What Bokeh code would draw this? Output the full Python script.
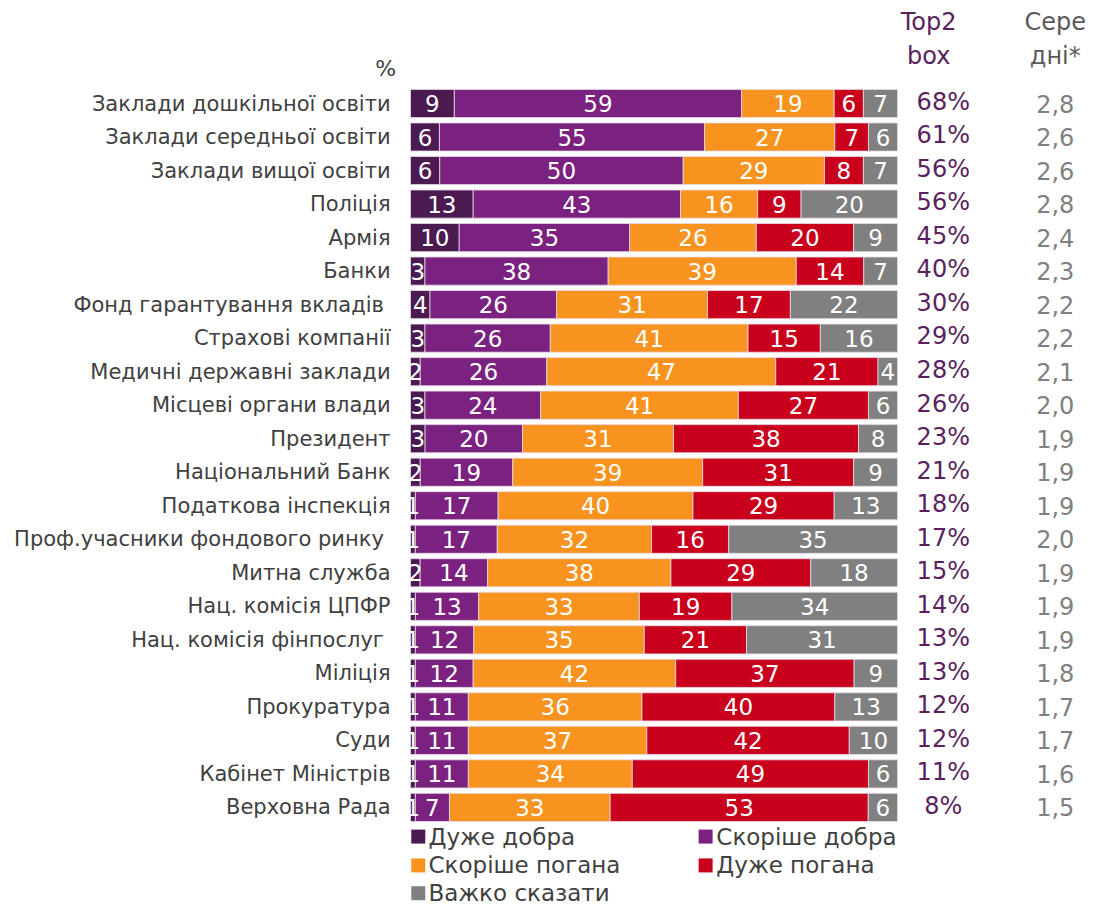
from bokeh.plotting import figure
from bokeh.models import Range1d, ColumnDataSource
from bokeh.core.properties import value
from bokeh.embed import file_html
from bokeh.resources import INLINE

categories = ["Заклади дошкільної освіти", "Заклади середньої освіти", "Заклади вищої освіти",
              "Поліція", "Армія", "Банки", "Фонд гарантування вкладів ", "Страхові компанії",
              "Медичні державні заклади", "Місцеві органи влади", "Президент", "Національний Банк",
              "Податкова інспекція", "Проф.учасники фондового ринку ", "Митна служба",
              "Нац. комісія ЦПФР", "Нац. комісія фінпослуг ", "Міліція", "Прокуратура", "Суди",
              "Кабінет Міністрів", "Верховна Рада"]
very_good = [9, 6, 6, 13, 10, 3, 4, 3, 2, 3, 3, 2, 1, 1, 2, 1, 1, 1, 1, 1, 1, 1]
rather_good = [59, 55, 50, 43, 35, 38, 26, 26, 26, 24, 20, 19, 17, 17, 14, 13, 12, 12, 11, 11, 11, 7]
rather_bad = [19, 27, 29, 16, 26, 39, 31, 41, 47, 41, 31, 39, 40, 32, 38, 33, 35, 42, 36, 37, 34, 33]
very_bad = [6, 7, 8, 9, 20, 14, 17, 15, 21, 27, 38, 31, 29, 16, 29, 19, 21, 37, 40, 42, 49, 53]
hard_to_say = [7, 6, 7, 20, 9, 7, 22, 16, 4, 6, 8, 9, 13, 35, 18, 34, 31, 9, 13, 10, 6, 6]
top2_box = ["68%", "61%", "56%", "56%", "45%", "40%", "30%", "29%", "28%", "26%", "23%", "21%",
            "18%", "17%", "15%", "14%", "13%", "13%", "12%", "12%", "11%", "8%"]
averages = ["2,8", "2,6", "2,6", "2,8", "2,4", "2,3", "2,2", "2,2", "2,1", "2,0", "1,9", "1,9",
            "1,9", "2,0", "1,9", "1,9", "1,9", "1,8", "1,7", "1,7", "1,6", "1,5"]
series_names = ["Дуже добра", "Скоріше добра", "Скоріше погана", "Дуже погана", "Важко сказати"]
series_colors = ["#4a1a50", "#7b2280", "#f7931e", "#c8001c", "#808080"]

series = [very_good, rather_good, rather_bad, very_bad, hard_to_say]
FONT = "DejaVu Sans"

W, H = 1098, 906
px_per = 4.87
left_px = 410
row0 = 103
row_sp = 33.52

p = figure(width=W, height=H, output_backend="svg", toolbar_location=None,
           x_range=Range1d(-left_px / px_per, (W - left_px) / px_per),
           y_range=Range1d((H - row0) / row_sp, -row0 / row_sp),
           min_border=0, min_border_left=0, min_border_right=0,
           min_border_top=0, min_border_bottom=0)
p.axis.visible = False
p.grid.visible = False
p.outline_line_color = None
p.background_fill_color = "white"
p.border_fill_color = "white"

ys = list(range(len(categories)))

# stacked segments, normalized to 100%
lefts, rights, yy, cols, labs, mids = [], [], [], [], [], []
for i in ys:
    total = sum(s[i] for s in series)
    acc = 0.0
    for k, s in enumerate(series):
        v = s[i]
        l = acc / total * 100
        acc += v
        r = acc / total * 100
        lefts.append(l); rights.append(r); yy.append(i)
        cols.append(series_colors[k]); labs.append(str(v)); mids.append((l + r) / 2)

src = ColumnDataSource(dict(left=lefts, right=rights, y=yy, color=cols, lab=labs, mid=mids))
p.hbar(y="y", left="left", right="right", height=0.84, fill_color="color",
       line_color="#e8dcea", line_width=0.8, source=src)
p.text(x="mid", y="y", text="lab", source=src, text_color="white",
       text_font=value(FONT), text_font_size="23px", text_align="center",
       text_baseline="middle")

# category labels
p.text(x=[-4.1] * len(ys), y=ys, text=categories, text_color="#404040",
       text_font=value(FONT), text_font_size="21px", text_align="right",
       text_baseline="middle")

# Top2 box column
p.text(x=[109.4] * len(ys), y=[y - 0.05 for y in ys], text=top2_box, text_color="#5a1f5e",
       text_font=value(FONT), text_font_size="24px", text_align="center",
       text_baseline="middle")
# averages column
p.text(x=[132.4] * len(ys), y=ys, text=averages, text_color="#808080",
       text_font=value(FONT), text_font_size="24px", text_align="center",
       text_baseline="middle")

# headers
p.text(x=[106.4, 106.4], y=[-2.42, -1.43], text=["Top2", "box"], text_color="#5a1f5e",
       text_font=value(FONT), text_font_size="24px", text_align="center", text_baseline="middle")
p.text(x=[132.4, 132.4], y=[-2.42, -1.43], text=["Сере", "дні*"], text_color="#595959",
       text_font=value(FONT), text_font_size="24px", text_align="center", text_baseline="middle")
p.text(x=[-5.1], y=[-1.04], text=["%"], text_color="#404040",
       text_font=value(FONT), text_font_size="22px", text_align="center", text_baseline="middle")

# legend
leg_x_sq = [1.6, 60.6, 1.6, 60.6, 1.6]
leg_x_tx = [3.7, 62.8, 3.7, 62.8, 3.7]
leg_y = [21.87, 21.87, 22.73, 22.73, 23.56]
p.scatter(x=leg_x_sq, y=leg_y, marker="square", size=14, fill_color=series_colors,
          line_color=None)
p.text(x=leg_x_tx, y=leg_y, text=series_names, text_color="#404040",
       text_font=value(FONT), text_font_size="23px", text_align="left", text_baseline="middle")

open("out.html", "w").write(file_html(p, INLINE))
